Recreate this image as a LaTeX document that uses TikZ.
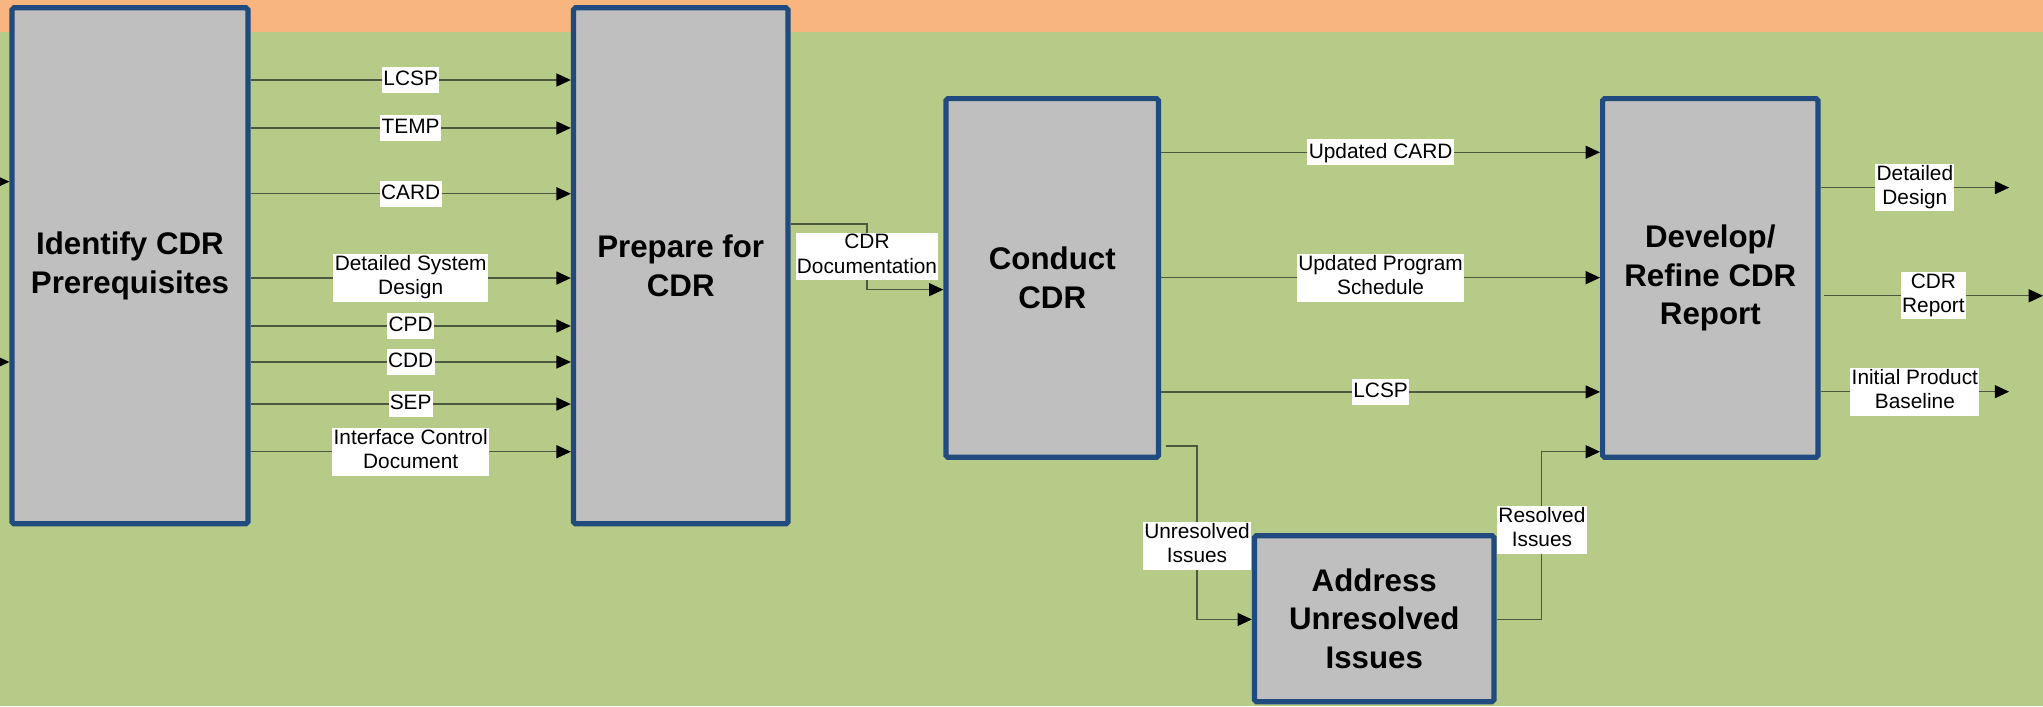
\documentclass[tikz,border=0pt]{standalone}
\usepackage{fontspec}
\setmainfont{Liberation Sans}
\usetikzlibrary{arrows.meta}
\definecolor{bandorange}{RGB}{249,181,127}
\definecolor{bggreen}{RGB}{183,203,136}
\definecolor{boxgray}{RGB}{191,191,191}
\definecolor{boxblue}{RGB}{33,74,126}
\definecolor{linecol}{RGB}{78,88,62}
\newcommand\lsTop{\rule{0pt}{13.5pt}}
\newcommand\lsBot{\rule[-4.5pt]{0pt}{4.5pt}}
\tikzset{
  procbox/.style={draw=boxblue, fill=boxgray, line width=4pt, rounded corners=1.5pt,
    align=center, inner sep=0pt, font=\fontsize{24}{29.5}\selectfont\bfseries},
  lbl/.style={fill=white, inner xsep=1pt, inner ysep=1pt, align=center,
    font=\fontsize{16}{18.5}\selectfont, execute at begin node=\lsTop, execute at end node=\lsBot},
  conn/.style={draw=linecol, line width=0.9pt, -{Triangle[length=11pt,width=10pt,color=black]}},
}
\begin{document}
\begin{tikzpicture}[x=1pt,y=-1pt]
\useasboundingbox (0,0) rectangle (1568,542);
\fill[bandorange] (0,0) rectangle (1568,24.5);
\fill[bggreen] (0,24.5) rectangle (1568,542);

% boxes
\node[procbox, minimum width=181.1pt, minimum height=396pt] (b1) at (99.75,204) {Identify CDR\\Prerequisites};
\node[procbox, minimum width=164.7pt, minimum height=396pt] (b2) at (522.45,204) {Prepare for\\CDR};
\node[procbox, minimum width=163.2pt, minimum height=275.3pt] (b3) at (807.6,213.35) {Conduct\\CDR};
\node[procbox, minimum width=165.3pt, minimum height=275.3pt] (b4) at (1312.65,213.35) {Develop/\\Refine CDR\\Report};
\node[procbox, minimum width=183.9pt, minimum height=127.4pt] (b5) at (1054.75,474.8) {Address\\Unresolved\\Issues};

% level coordinates
\coordinate (in1) at (-20,139.4);
\coordinate (in2) at (-20,277.8);
\coordinate (y1) at (0,61.4);
\coordinate (y2) at (0,98.2);
\coordinate (y3) at (0,148.7);
\coordinate (y4) at (0,213.4);
\coordinate (y5) at (0,250.2);
\coordinate (y6) at (0,277.8);
\coordinate (y7) at (0,310.1);
\coordinate (y8) at (0,346.7);

% inputs to box 1
\draw[conn] (in1) -- (b1.west |- in1);
\draw[conn] (in2) -- (b1.west |- in2);

% box1 -> box2
\draw[conn] (b1.east |- y1) -- (b2.west |- y1) node[lbl, midway] {LCSP};
\draw[conn] (b1.east |- y2) -- (b2.west |- y2) node[lbl, midway] {TEMP};
\draw[conn] (b1.east |- y3) -- (b2.west |- y3) node[lbl, midway] {CARD};
\draw[conn] (b1.east |- y4) -- (b2.west |- y4) node[lbl, midway] {Detailed System\\Design};
\draw[conn] (b1.east |- y5) -- (b2.west |- y5) node[lbl, midway] {CPD};
\draw[conn] (b1.east |- y6) -- (b2.west |- y6) node[lbl, midway] {CDD};
\draw[conn] (b1.east |- y7) -- (b2.west |- y7) node[lbl, midway] {SEP};
\draw[conn] (b1.east |- y8) -- (b2.west |- y8) node[lbl, midway] {Interface Control\\Document};

% box2 -> box3
\coordinate (d1) at (665.4,171.9);
\coordinate (d2) at (665.4,222.3);
\draw[conn] (b2.east |- d1) -- (d1) -- (d2) -- (b3.west |- d2);
\node[lbl] (ldoc) at (665.4,197) {CDR\\Documentation};

% box3 -> box4
\coordinate (z1) at (0,116.9);
\coordinate (z2) at (0,213.1);
\coordinate (z3) at (0,300.8);
\draw[conn] (b3.east |- z1) -- (b4.west |- z1) node[lbl, midway] {Updated CARD};
\draw[conn] (b3.east |- z2) -- (b4.west |- z2) node[lbl, midway] {Updated Program\\Schedule};
\draw[conn] (b3.east |- z3) -- (b4.west |- z3) node[lbl, midway] {LCSP};

% unresolved
\coordinate (u0) at (894.6,342.3);
\coordinate (u1) at (918.7,342.3);
\coordinate (u2) at (918.7,475.4);
\draw[conn] (u0) -- (u1) -- (u2) -- (b5.west |- u2);
\node[lbl] (lunres) at (918.7,419) {Unresolved\\Issues};

% resolved
\coordinate (r1) at (1183.4,475.4);
\coordinate (r2) at (1183.4,346.7);
\draw[conn] (b5.east |- r1) -- (r1) -- (r2) -- (b4.west |- r2);
\node[lbl] (lres) at (1183.4,406.8) {Resolved\\Issues};

% outputs of box 4
\coordinate (o1) at (1542,144);
\coordinate (o2s) at (1399.8,227);
\coordinate (o2) at (1568,227);
\coordinate (o3) at (1542,300.6);
\draw[conn] (b4.east |- o1) -- (o1) node[lbl, midway] {Detailed\\Design};
\draw[conn] (o2s) -- (o2) node[lbl, midway] {CDR\\Report};
\draw[conn] (b4.east |- o3) -- (o3) node[lbl, midway] {Initial Product\\Baseline};
\end{tikzpicture}
\end{document}
